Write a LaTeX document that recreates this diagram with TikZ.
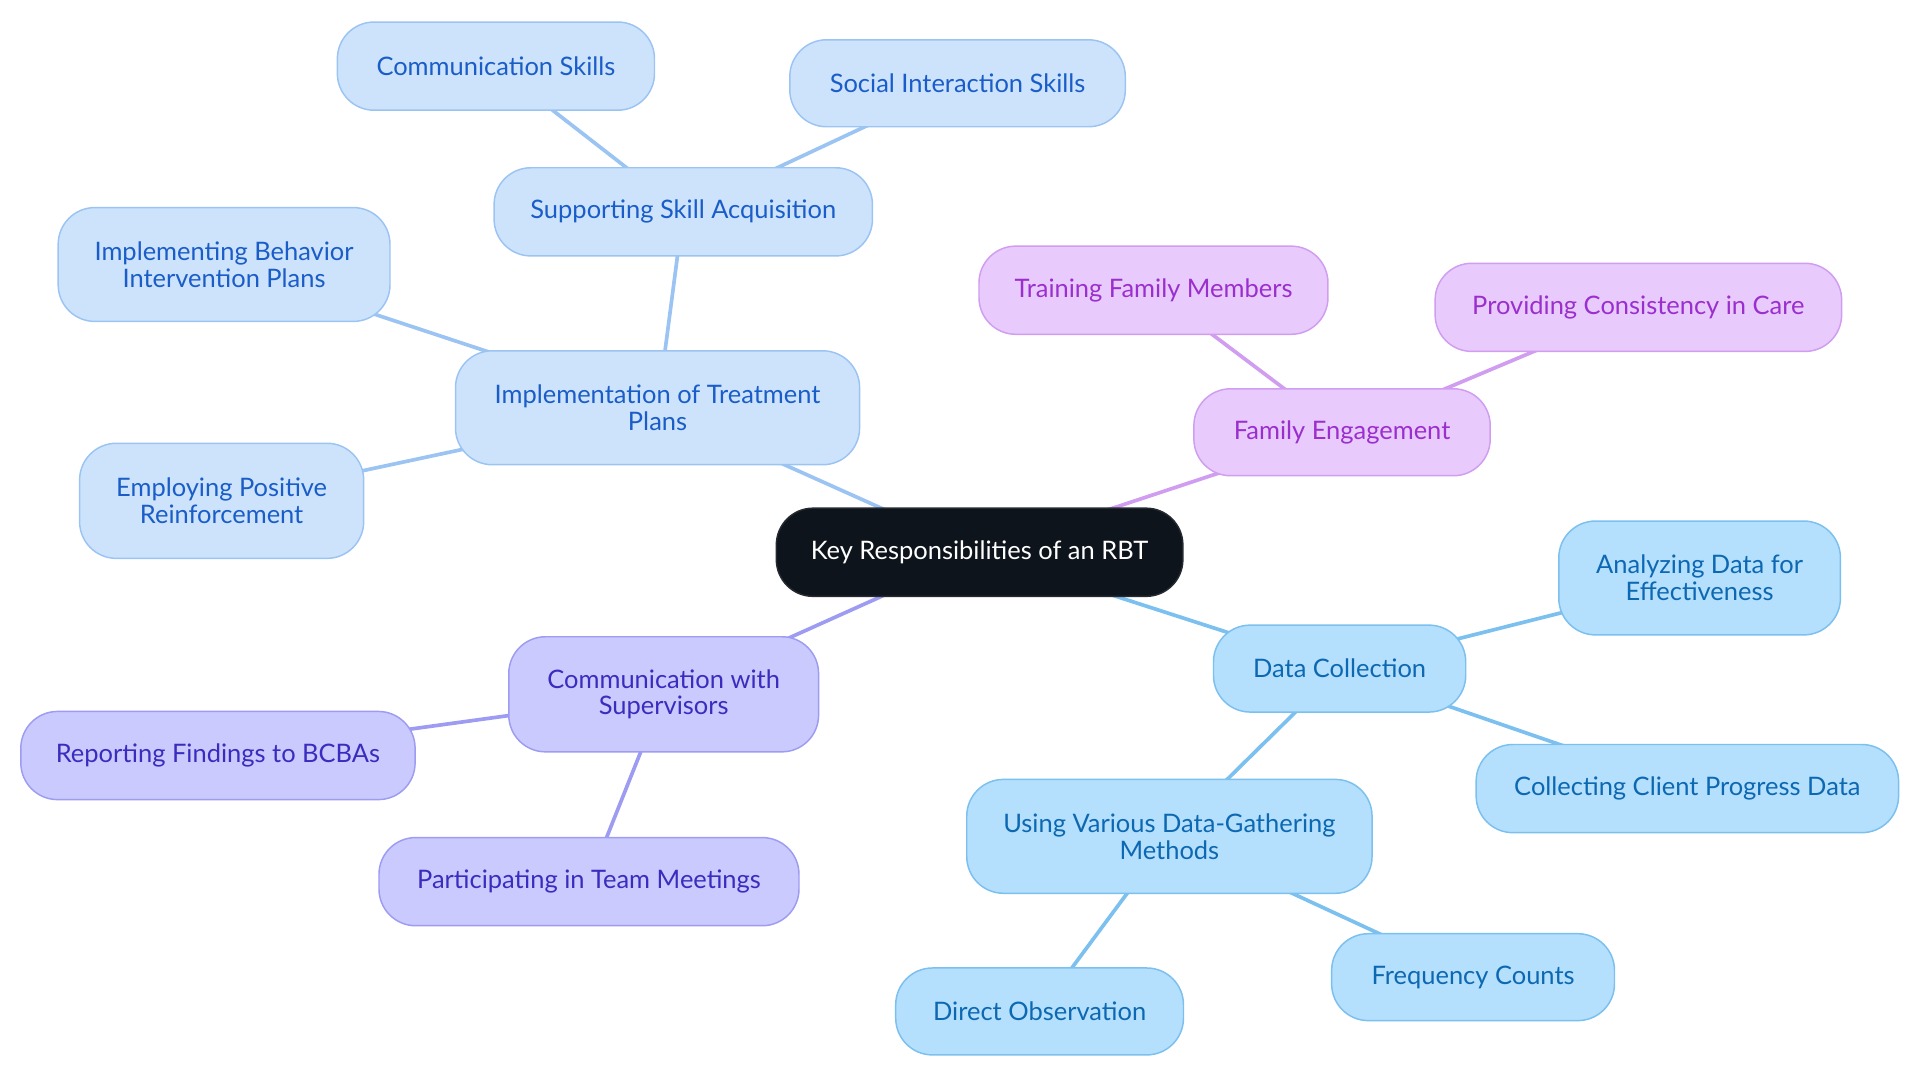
\documentclass[tikz,border=0pt]{standalone}
\usepackage{fontspec}
\setmainfont{Lato}
\usetikzlibrary{backgrounds}
\definecolor{rootfill}{HTML}{0E141C}
\definecolor{bfill}{HTML}{CDE3FB}
\definecolor{bdraw}{HTML}{9BC4F3}
\definecolor{btext}{HTML}{1A5DC8}
\definecolor{pfill}{HTML}{E8CBFC}
\definecolor{pdraw}{HTML}{D09DF0}
\definecolor{ptext}{HTML}{9B2FCE}
\definecolor{vfill}{HTML}{CACAFE}
\definecolor{vdraw}{HTML}{9D9CF2}
\definecolor{vtext}{HTML}{3A2DBE}
\definecolor{sfill}{HTML}{B4DFFD}
\definecolor{sdraw}{HTML}{7BC0EE}
\definecolor{stext}{HTML}{0D68B2}
\tikzset{
  box/.style={rounded corners=15pt, line width=0.6pt, align=center, font=\fontsize{10.4}{11}\selectfont, inner sep=0pt},
  rootbox/.style={box, fill=rootfill, draw=rootfill!80!gray, text=white},
  bbox/.style={box, fill=bfill, draw=bdraw, text=btext},
  pbox/.style={box, fill=pfill, draw=pdraw, text=ptext},
  vbox/.style={box, fill=vfill, draw=vdraw, text=vtext},
  sbox/.style={box, fill=sfill, draw=sdraw, text=stext},
  bl/.style={draw=bdraw, line width=1.5pt},
  pl/.style={draw=pdraw, line width=1.5pt},
  vl/.style={draw=vdraw, line width=1.5pt},
  sl/.style={draw=sdraw, line width=1.5pt},
}
\begin{document}
\begin{tikzpicture}[x=0.5pt,y=-0.5pt]
\useasboundingbox (0,0) rectangle (1568,884.4);
% nodes
\node[rootbox, minimum width=166pt, minimum height=36pt] (root) at (800,451) {Key Responsibilities of an RBT};
\node[bbox, minimum width=165pt, minimum height=46.5pt] (impl) at (537,333) {Implementation of Treatment\\Plans};
\node[bbox, minimum width=154.5pt, minimum height=36pt] (skill) at (558,173) {Supporting Skill Acquisition};
\node[bbox, minimum width=129.5pt, minimum height=36pt] (comm) at (405,54) {Communication Skills};
\node[bbox, minimum width=137pt, minimum height=35.5pt] (social) at (782,68) {Social Interaction Skills};
\node[bbox, minimum width=135.5pt, minimum height=46.5pt] (bip) at (183,216) {Implementing Behavior\\Intervention Plans};
\node[bbox, minimum width=116pt, minimum height=47pt] (pos) at (181,409) {Employing Positive\\Reinforcement};
\node[pbox, minimum width=121pt, minimum height=35.5pt] (fam) at (1096,353) {Family Engagement};
\node[pbox, minimum width=142.5pt, minimum height=36pt] (train) at (942,237) {Training Family Members};
\node[pbox, minimum width=166pt, minimum height=36pt] (cons) at (1338,251) {Providing Consistency in Care};
\node[vbox, minimum width=126.5pt, minimum height=47pt] (sup) at (542,567) {Communication with\\Supervisors};
\node[vbox, minimum width=161pt, minimum height=36pt] (rep) at (178,617) {Reporting Findings to BCBAs};
\node[vbox, minimum width=171.5pt, minimum height=36pt] (team) at (481,720) {Participating in Team Meetings};
\node[sbox, minimum width=103pt, minimum height=35.5pt] (data) at (1094,546) {Data Collection};
\node[sbox, minimum width=115pt, minimum height=46.5pt] (anal) at (1388,472) {Analyzing Data for\\Effectiveness};
\node[sbox, minimum width=172.5pt, minimum height=36pt] (client) at (1378,644) {Collecting Client Progress Data};
\node[sbox, minimum width=165.5pt, minimum height=46.5pt] (meth) at (955,683) {Using Various Data-Gathering\\Methods};
\node[sbox, minimum width=117.5pt, minimum height=35.5pt] (obs) at (849,826) {Direct Observation};
\node[sbox, minimum width=115.5pt, minimum height=35.5pt] (freq) at (1203,798) {Frequency Counts};
% connectors
\begin{pgfonlayer}{background}
\draw[bl] (root.center) -- (impl.center);
\draw[bl] (impl.center) -- (skill.center);
\draw[bl] (skill.center) -- (comm.center);
\draw[bl] (skill.center) -- (social.center);
\draw[bl] (impl.center) -- (bip.center);
\draw[bl] (impl.center) -- (pos.center);
\draw[pl] (root.center) -- (fam.center);
\draw[pl] (fam.center) -- (train.center);
\draw[pl] (fam.center) -- (cons.center);
\draw[vl] (root.center) -- (sup.center);
\draw[vl] (sup.center) -- (rep.center);
\draw[vl] (sup.center) -- (team.center);
\draw[sl] (root.center) -- (data.center);
\draw[sl] (data.center) -- (anal.center);
\draw[sl] (data.center) -- (client.center);
\draw[sl] (data.center) -- (meth.center);
\draw[sl] (meth.center) -- (obs.center);
\draw[sl] (meth.center) -- (freq.center);
\end{pgfonlayer}
\end{tikzpicture}
\end{document}
